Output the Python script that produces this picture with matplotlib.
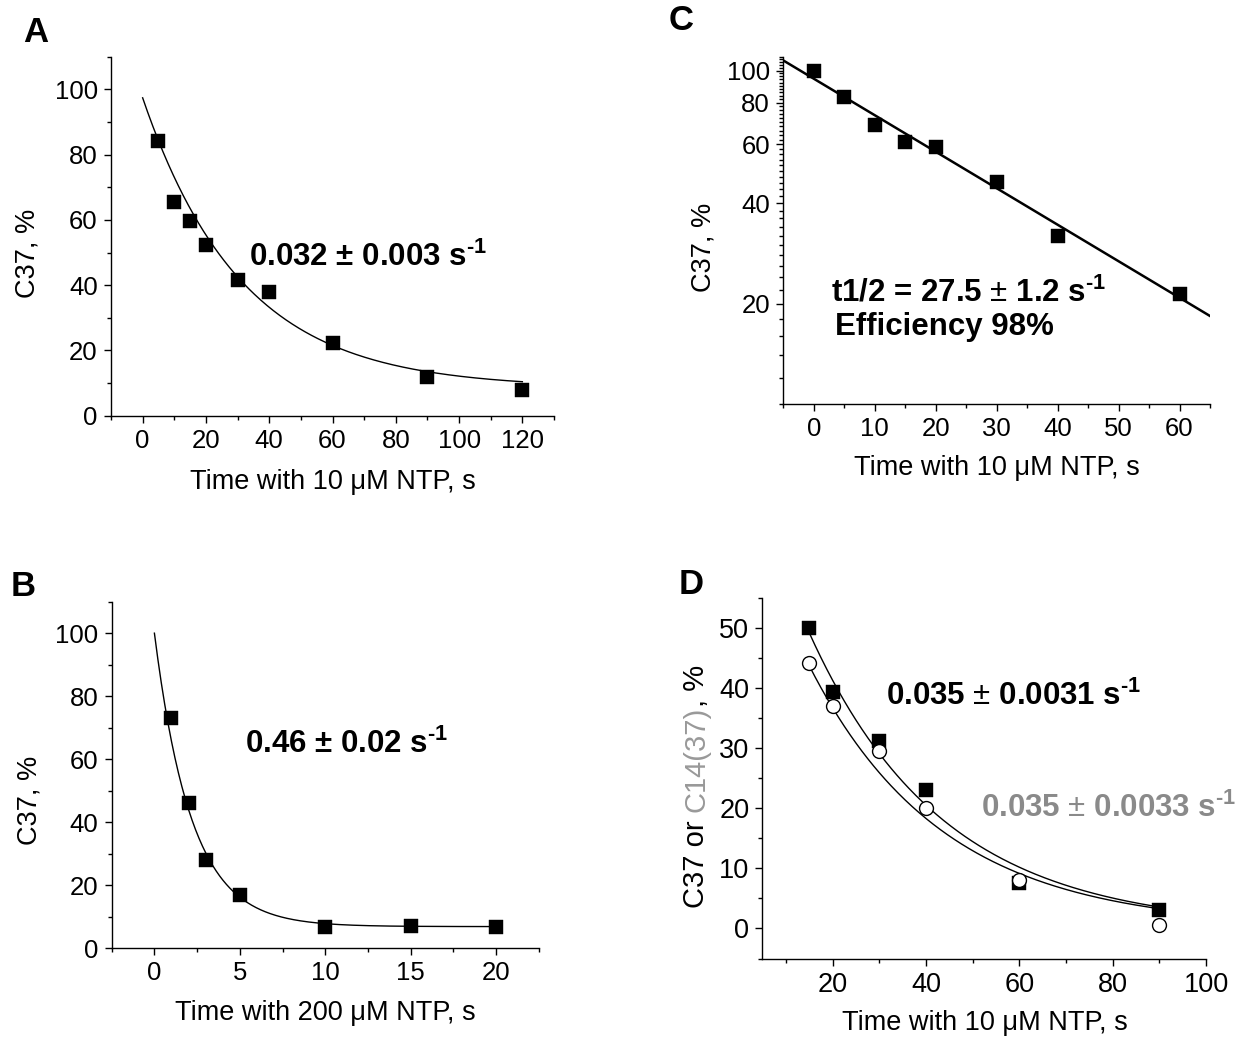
import numpy as np
import matplotlib
matplotlib.use('Agg')
import matplotlib.pyplot as plt
from matplotlib.ticker import MultipleLocator, FixedLocator, NullFormatter

plt.rcParams['font.family'] = ['Liberation Sans', 'DejaVu Sans']
plt.rcParams['mathtext.fontset'] = 'custom'
plt.rcParams['mathtext.rm'] = 'Liberation Sans'
plt.rcParams['mathtext.bf'] = 'Liberation Sans:bold'
plt.rcParams['mathtext.it'] = 'Liberation Sans:italic'

# panel A - 10 uM NTP
a_time = [5, 10, 15, 20, 30, 40, 60, 90, 120]
a_c37 = [84.3, 65.4, 59.8, 52.4, 41.5, 37.8, 22.4, 11.9, 7.9]
a_fit = dict(y0=8.5, amp=88.9, k=0.032, t0=0, t1=120)

# panel B - 200 uM NTP
b_time = [1, 2, 3, 5, 10, 15, 20]
b_c37 = [73.0, 46.0, 28.0, 16.8, 6.7, 7.1, 6.7]
b_fit = dict(y0=6.8, amp=93.2, k=0.46, t0=0, t1=20)

# panel C - log scale, half-life fit
c_time = [0, 5, 10, 15, 20, 30, 40, 60]
c_c37 = [100, 83.5, 68.5, 60.9, 58.9, 46.2, 31.9, 21.4]
c_fit = dict(amp=94.5, t_half=27.5, t0=-5, t1=65)

# panel D - C37 and C14(37)
d_time = [15, 20, 30, 40, 60, 90]
d_c37 = [50.0, 39.4, 31.2, 23.0, 7.5, 3.0]
d_c14 = [44.3, 37.0, 29.5, 20.0, 8.1, 0.5]
d_fit_c37 = dict(y0=0.0, amp=83.3, k=0.035, t0=15, t1=90)
d_fit_c14 = dict(y0=0.13, amp=73.8, k=0.035, t0=15, t1=90)

GRAY = '#8a8a8a'
TICK = 18.5
LABEL = 19.5

W, H = 1244, 1041
fig = plt.figure(figsize=(W / 100, H / 100), dpi=100)


def add_ax(l, t, r, b):
    return fig.add_axes([l / W, 1 - b / H, (r - l) / W, (b - t) / H])


def ftext(x, y, s, **kw):
    return fig.text(x / W, 1 - y / H, s, **kw)


def style(ax, size=TICK):
    for side in ['top', 'right']:
        ax.spines[side].set_visible(False)
    for side in ['left', 'bottom']:
        ax.spines[side].set_linewidth(1.0)
    ax.tick_params(which='major', direction='out', length=5, width=1,
                   labelsize=size, pad=4.5)
    ax.tick_params(which='minor', direction='out', length=3, width=1)


def exp_curve(ax, p, lw=1.0):
    t = np.linspace(p['t0'], p['t1'], 300)
    ax.plot(t, p['y0'] + p['amp'] * np.exp(-p['k'] * t), color='black', lw=lw, zorder=2)


def squares(ax, x, y):
    ax.plot(x, y, ls='none', marker='s', ms=10, mfc='black', mec='black',
            mew=0.3, zorder=3)


ann = dict(fontsize=22.5, fontweight='bold', ha='left', va='baseline')
lab = dict(fontsize=LABEL, ha='center', va='center')
letter = dict(fontsize=25, fontweight='bold', ha='center', va='center')
sup = 's$^{\\mathbf{\u20101}}$'

# ---- A ----
ax_a = add_ax(111, 56.7, 554, 415.7)
style(ax_a)
exp_curve(ax_a, a_fit)
squares(ax_a, a_time, a_c37)
ax_a.set_xlim(-10, 130)
ax_a.set_ylim(0, 110)
ax_a.xaxis.set_major_locator(MultipleLocator(20))
ax_a.xaxis.set_minor_locator(MultipleLocator(10))
ax_a.yaxis.set_major_locator(MultipleLocator(20))
ax_a.yaxis.set_minor_locator(MultipleLocator(10))
ftext(248.8, 265.7, '0.032 \u00b1 0.003 ' + sup, **ann)
ftext(28, 253, 'C37, %', rotation=90, **lab)
ftext(332.5, 481.7, 'Time with 10 \u03bcM NTP, s', **lab)
ftext(36, 32, 'A', **letter)

# ---- B ----
ax_b = add_ax(111.7, 601.7, 538.8, 948)
style(ax_b)
exp_curve(ax_b, b_fit)
squares(ax_b, b_time, b_c37)
ax_b.set_xlim(-2.5, 22.5)
ax_b.set_ylim(0, 110)
ax_b.xaxis.set_major_locator(MultipleLocator(5))
ax_b.xaxis.set_minor_locator(MultipleLocator(2.5))
ax_b.yaxis.set_major_locator(MultipleLocator(20))
ax_b.yaxis.set_minor_locator(MultipleLocator(10))
ftext(245, 753.3, '0.46 \u00b1 0.02 ' + sup, **ann)
ftext(30, 800, 'C37, %', rotation=90, **lab)
ftext(325, 1013, 'Time with 200 \u03bcM NTP, s', **lab)
ftext(23, 586, 'B', **letter)

# ---- C ----
ax_c = add_ax(783.3, 56.7, 1210, 404)
style(ax_c)
ax_c.set_yscale('log')
t = np.linspace(c_fit['t0'], c_fit['t1'], 100)
ax_c.plot(t, c_fit['amp'] * 2 ** (-t / c_fit['t_half']), color='black', lw=1.8, zorder=2)
squares(ax_c, c_time, c_c37)
ax_c.set_xlim(-5, 65)
ax_c.set_ylim(10, 110)
ax_c.xaxis.set_major_locator(MultipleLocator(10))
ax_c.xaxis.set_minor_locator(MultipleLocator(5))
c_major = [20, 40, 60, 80, 100]
ax_c.yaxis.set_major_locator(FixedLocator(c_major))
ax_c.set_yticklabels([str(v) for v in c_major])
ax_c.yaxis.set_minor_locator(FixedLocator([v for v in range(10, 111, 2) if v not in c_major]))
ax_c.yaxis.set_minor_formatter(NullFormatter())
ftext(831, 301.7, 't1/2 = 27.5 $\\pm$ 1.2 ' + sup, **ann)
ftext(835, 335, 'Efficiency 98%', **ann)
ftext(704, 247.5, 'C37, %', rotation=90, **lab)
ftext(996.7, 468, 'Time with 10 \u03bcM NTP, s', **lab)
ftext(681, 21, 'C', **letter)

# ---- D ----
ax_d = add_ax(762.5, 598.3, 1206.2, 958.5)
style(ax_d, size=19.5)
exp_curve(ax_d, d_fit_c37)
exp_curve(ax_d, d_fit_c14)
squares(ax_d, d_time, d_c37)
ax_d.plot(d_time, d_c14, ls='none', marker='o', ms=10, mfc='white', mec='black',
          mew=1.0, zorder=4)
ax_d.set_xlim(5, 100)
ax_d.set_ylim(-5, 55)
ax_d.xaxis.set_major_locator(MultipleLocator(20))
ax_d.xaxis.set_minor_locator(MultipleLocator(10))
ax_d.yaxis.set_major_locator(MultipleLocator(10))
ax_d.yaxis.set_minor_locator(MultipleLocator(5))
ftext(885.8, 705, '0.035 $\\pm$ 0.0031 ' + sup, **ann)
ftext(981.3, 816.7, '0.035 $\\pm$ 0.0033 ' + sup, color=GRAY, **ann)
ylab = dict(fontsize=21, rotation=90, ha='center', va='bottom', annotation_clip=False)
t1 = ftext(696, 908, 'C37 or', fontsize=21, rotation=90, ha='center', va='bottom')
t2 = ax_d.annotate('C14(37)', xy=(0.5, 1), xycoords=t1, xytext=(0, 5.8),
                   textcoords='offset points', color='#999999', **ylab)
t3 = ax_d.annotate(', %', xy=(0.5, 1), xycoords=t2, xytext=(0, 0),
                   textcoords='offset points', **ylab)
ftext(984.4, 1022.7, 'Time with 10 \u03bcM NTP, s', **lab)
ftext(691.6, 584, 'D', **letter)

fig.savefig('out.png', dpi=100)
